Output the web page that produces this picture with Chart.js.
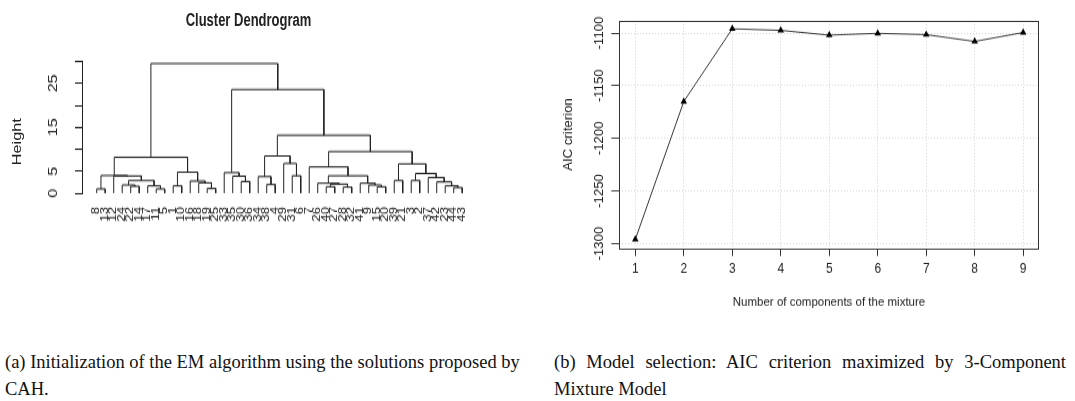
<!DOCTYPE html>
<html>
<head>
<meta charset="utf-8">
<script src="https://cdn.jsdelivr.net/npm/chart.js@4.4.1/dist/chart.umd.min.js"></script>
<style>
html, body { margin: 0; padding: 0; background: #fff; }
body { width: 1075px; height: 401px; position: relative; overflow: hidden; font-family: "Liberation Sans", Arial, sans-serif; color: #222; }
#left { position: absolute; left: 0; top: 0; width: 500px; height: 175px; transform: scaleY(1.35); transform-origin: 0 0; }
#right { position: absolute; left: 550px; top: 0; width: 525px; height: 290px; transform: scaleY(1.1); transform-origin: 0 0; }
canvas { position: absolute; left: 0; top: 0; }
.title { position: absolute; left: 0; top: 7px; width: 497px; text-align: center; font-weight: bold; font-size: 13px; line-height: 16px; }
.ylab { position: absolute; left: -23px; top: 97px; width: 80px; height: 16px; line-height: 16px; text-align: center; font-size: 12px; transform: rotate(-90deg); }
.cap { position: absolute; font-family: "Liberation Serif", "Times New Roman", serif; font-size: 18.5px; line-height: 20px; white-space: nowrap; color: #111; }
.j { text-align: justify; text-align-last: justify; }
</style>
</head>
<body>
<div id="left">
  <div class="title">Cluster Dendrogram</div>
  <div class="ylab">Height</div>
  <canvas id="dendro" width="480" height="175"></canvas>
</div>
<div id="right">
  <canvas id="aic" width="525" height="290"></canvas>
</div>
<div class="cap j" style="left:5px; top:352px; width:510px;">(a) Initialization of the EM algorithm using the solutions proposed by</div>
<div class="cap" style="left:5px; top:379px;">CAH.</div>
<div class="cap j" style="left:554px; top:352px; width:512px;">(b) Model selection: AIC criterion maximized by 3-Component</div>
<div class="cap" style="left:554px; top:379px;">Mixture Model</div>

<script>
// dendrogram: leaves in plotting order, merges like R's hclust (negative = leaf position + 1)
var leafLabels = ["8","13","12","24","22","14","17","11","5","1","10","16","18","19","25",
    "33","35","30","36","34","38","4","29","31","6","7","26","40","27","28",
    "32","41","9","15","20","39","21","3","2","37","42","23","44","43"];
var mergeA = [-1,-5,-4,-8,-7,3,-3,1,-10,-14,-13,-12,9,8,-18,-17,-16,-21,-20,-24,-23,19,
    -28,-30,23,-27,-34,-33,-32,26,-26,-36,-38,-43,-42,-41,-40,33,32,31,22,17,14];
var mergeB = [-2,-6,2,-9,4,5,6,7,-11,-15,10,11,12,13,-19,15,16,-22,18,-25,20,21,
    -29,-31,24,25,-35,27,28,29,30,-37,-39,-44,34,35,36,37,38,39,40,41,42];
var mergeHeight = [1.0,1.6,1.9,1.0,1.7,2.9,3.95,4.05,1.7,1.1,2.4,2.8,4.8,8.2,2.7,3.9,4.7,2.0,3.8,4.0,6.8,8.5,
    1.5,1.4,2.1,2.3,1.5,1.9,2.3,4.0,6.0,2.9,2.9,1.3,1.7,2.6,3.6,4.5,6.7,9.5,13.2,23.6,29.5];
var heightTicks = [0, 5, 10, 15, 20, 25, 30];
var heightTickLabels = ["0", "5", "", "15", "", "25", ""];

// AIC by number of mixture components
var components = [1, 2, 3, 4, 5, 6, 7, 8, 9];
var aicValues = [-1296, -1165, -1096, -1097.5, -1102, -1100.3, -1101.5, -1108, -1099.5];
var aicTicks = [-1300, -1250, -1200, -1150, -1100];

Chart.defaults.font.family = '"Liberation Sans", Arial, sans-serif';
Chart.defaults.animation = false;

// build the elbow segments of the dendrogram
var nodeX = [];
function xOf(r) { return r < 0 ? (-r - 1) : nodeX[r - 1]; }
function hOf(r) { return r < 0 ? 0 : mergeHeight[r - 1]; }
var dendroSets = [];
for (var k = 0; k < mergeHeight.length; k++) {
    var a = mergeA[k], b = mergeB[k], h = mergeHeight[k];
    var xa = xOf(a), xb = xOf(b);
    nodeX[k] = (xa + xb) / 2;
    dendroSets.push({
        data: [{x: xa, y: hOf(a)}, {x: xa, y: h}, {x: xb, y: h}, {x: xb, y: hOf(b)}],
        showLine: true,
        borderColor: "#222",
        borderWidth: 1,
        pointRadius: 0,
        tension: 0
    });
}

new Chart(document.getElementById("dendro"), {
    type: "scatter",
    data: {datasets: dendroSets},
    options: {
        responsive: false,
        layout: {padding: {top: 45.4, right: 0, bottom: 0, left: 0}},
        plugins: {legend: {display: false}, tooltip: {enabled: false}},
        scales: {
            x: {
                type: "linear", min: -1.73, max: 45.09,
                grid: {display: false},
                border: {display: false},
                afterBuildTicks: function (s) { s.ticks = leafLabels.map(function (_, i) { return {value: i}; }); },
                afterFit: function (s) { s.height = 175 - 143.2; },
                ticks: {
                    autoSkip: false, minRotation: 90, maxRotation: 90, padding: 2,
                    font: {size: 10}, color: "#222",
                    callback: function (v) { return leafLabels[v]; }
                }
            },
            y: {
                type: "linear", min: 0, max: 30,
                grid: {drawOnChartArea: false, tickLength: 7, tickColor: "#222"},
                border: {color: "#222"},
                afterBuildTicks: function (s) { s.ticks = heightTicks.map(function (v) { return {value: v}; }); },
                afterFit: function (s) { s.width = 82; },
                ticks: {
                    autoSkip: false, minRotation: 90, maxRotation: 90, crossAlign: "center", padding: 15,
                    font: {size: 12}, color: "#222",
                    callback: function (v, i) { return heightTickLabels[i]; }
                }
            }
        }
    }
});

var boxPlugin = {
    id: "box",
    afterDraw: function (chart) {
        var c = chart.ctx, a = chart.chartArea;
        c.save();
        c.strokeStyle = "#333";
        c.lineWidth = 1;
        c.strokeRect(Math.round(a.left) + 0.5, Math.round(a.top) + 0.5,
            Math.round(a.right - a.left), Math.round(a.bottom - a.top));
        c.restore();
    }
};

new Chart(document.getElementById("aic"), {
    type: "scatter",
    data: {
        datasets: [{
            data: components.map(function (c, i) { return {x: c, y: aicValues[i]}; }),
            showLine: true,
            borderColor: "#333",
            borderWidth: 1,
            pointStyle: "triangle",
            pointRadius: 3.8,
            pointBackgroundColor: "#000",
            pointBorderColor: "#000",
            pointBorderWidth: 0,
            tension: 0
        }]
    },
    plugins: [boxPlugin],
    options: {
        responsive: false,
        layout: {padding: {top: 18.8, right: 36.3, bottom: 0, left: 0}},
        plugins: {legend: {display: false}, tooltip: {enabled: false}},
        scales: {
            x: {
                type: "linear", min: 0.67, max: 9.32,
                grid: {color: "#d4d4d4", tickColor: "#333", tickLength: 7},
                border: {display: false, dash: [1, 2]},
                afterBuildTicks: function (s) { s.ticks = components.map(function (v) { return {value: v}; }); },
                afterFit: function (s) { s.height = 290 - 225.7; },
                ticks: {autoSkip: false, maxRotation: 0, padding: 5, font: {size: 12}, color: "#222"},
                title: {display: true, text: "Number of components of the mixture", font: {size: 11.5}, color: "#222", padding: {top: 0, bottom: 8.6}}
            },
            y: {
                type: "linear", min: -1304.4, max: -1088.3,
                grid: {color: "#d4d4d4", tickColor: "#333", tickLength: 8},
                border: {display: false, dash: [1, 2]},
                afterBuildTicks: function (s) { s.ticks = aicTicks.map(function (v) { return {value: v}; }); },
                afterFit: function (s) { s.width = 69.3; },
                ticks: {
                    autoSkip: false, minRotation: 90, maxRotation: 90, crossAlign: "center", padding: -4,
                    font: {size: 12}, color: "#222",
                    callback: function (v) { return String(v); }
                },
                title: {display: true, text: "AIC criterion", font: {size: 12}, color: "#222", padding: {top: 11, bottom: 0}}
            }
        }
    }
});
</script>
</body>
</html>
